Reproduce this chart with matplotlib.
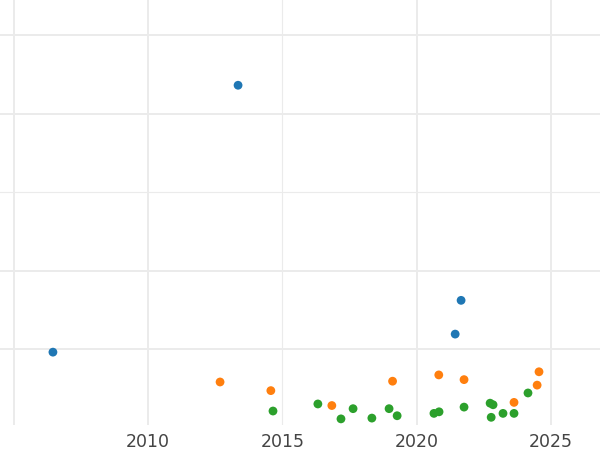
import numpy as np
import matplotlib.pyplot as plt

# series
blue_x = [2006.46, 2013.35, 2021.65, 2021.43]
blue_y = [0.96, 4.36, 1.62, 1.19]

orange_x = [2012.68, 2014.57, 2016.84, 2019.10, 2020.82, 2021.76, 2023.62, 2024.48, 2024.55]
orange_y = [0.58, 0.47, 0.28, 0.59, 0.67, 0.61, 0.32, 0.54, 0.71]

green_x = [2014.65, 2016.32, 2017.18, 2017.63, 2018.33, 2018.97, 2019.27, 2020.64,
           2020.83, 2021.76, 2022.73, 2022.84, 2022.77, 2023.21, 2023.62, 2024.14]
green_y = [0.21, 0.30, 0.11, 0.24, 0.12, 0.24, 0.15, 0.18,
           0.20, 0.26, 0.31, 0.29, 0.13, 0.18, 0.18, 0.44]

x_ticks = [2005, 2010, 2015, 2020, 2025]
x_labels = ['', '2010', '2015', '2020', '2025']
y_ticks = [1, 2, 3, 4, 5]

fig = plt.figure(figsize=(6, 4.5), dpi=100)
ax = fig.add_axes([0, 25 / 450, 1, 425 / 450])

# gridlines (some are drawn lighter in the reference)
thin_x = [2015]
thin_y = [3]
for xv in x_ticks:
    ax.axvline(xv, color='#ebebeb', lw=0.8 if xv in thin_x else 1.4, zorder=0)
for yv in y_ticks:
    ax.axhline(yv, color='#ebebeb', lw=0.8 if yv in thin_y else 1.4, zorder=0)

ax.scatter(blue_x, blue_y, s=40, color='#1f77b4', edgecolors='none', zorder=3)
ax.scatter(orange_x, orange_y, s=40, color='#ff7f0e', edgecolors='none', zorder=3)
ax.scatter(green_x, green_y, s=40, color='#2ca02c', edgecolors='none', zorder=3)

ax.set_xlim(2004.49, 2026.82)
ax.set_ylim(0.032, 5.446)
ax.set_xticks(x_ticks)
ax.set_xticklabels(x_labels, fontsize=12.5, color='#444444')
ax.set_yticks([])
ax.tick_params(axis='x', length=0, pad=6)
for s in ax.spines.values():
    s.set_visible(False)

fig.savefig('out.png', dpi=100)
